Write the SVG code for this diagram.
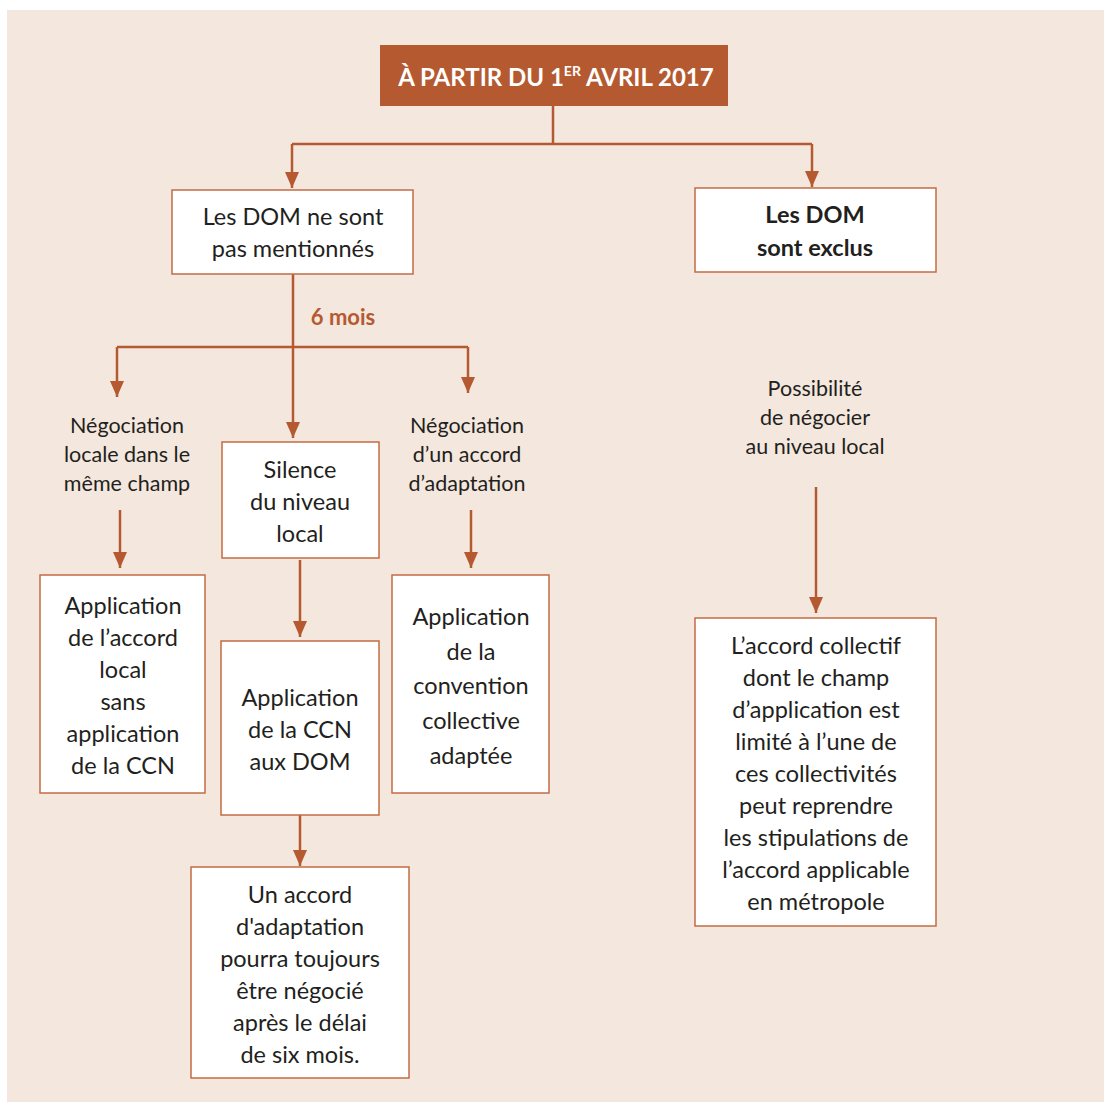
<svg xmlns="http://www.w3.org/2000/svg" width="1104" height="1102" viewBox="0 0 1104 1102">
<defs>
<marker id="ah" markerUnits="userSpaceOnUse" markerWidth="16" markerHeight="14" refX="16" refY="7" orient="auto" viewBox="0 0 16 14">
<path d="M0,0 L16,7 L0,14 Z" fill="#b55a30"/>
</marker>
<style>
.box{fill:#ffffff;stroke:#c46c44;stroke-width:1.5}
.t{font-family:Lato,"Open Sans","Liberation Sans",sans-serif;fill:#231f20;text-anchor:middle}
.m{font-size:23.5px}
.s{font-size:21.5px}
.b{font-weight:bold}
.c{fill:none;stroke:#b55a30;stroke-width:2.5}
.ca{fill:none;stroke:#b55a30;stroke-width:2.5;marker-end:url(#ah)}
</style>
</defs>
<rect x="0" y="0" width="1104" height="1102" fill="#ffffff"/>
<rect x="7" y="10" width="1097" height="1092" fill="#f4e7de"/>

<g id="connectors">
<path class="c" d="M553,106 V144 M292,144 H812"/>
<path class="ca" d="M292,144 V188"/>
<path class="ca" d="M812,144 V187"/>
<path class="c" d="M293,274 V347 M117,347 H468"/>
<path class="ca" d="M117,347 V397"/>
<path class="ca" d="M468,347 V393"/>
<path class="ca" d="M293,347 V438"/>
<path class="ca" d="M120,510 V568"/>
<path class="ca" d="M471,510 V568"/>
<path class="ca" d="M300,560 V637"/>
<path class="ca" d="M300,815 V866"/>
<path class="ca" d="M816,487 V613"/>
</g>

<g id="title">
<rect x="380" y="45" width="348" height="61" fill="#b55a30"/>
<text class="t b" x="556" y="86" style="fill:#ffffff;font-size:24px">À PARTIR DU 1<tspan font-size="14" dy="-10">ER</tspan><tspan dy="10"> AVRIL 2017</tspan></text>
</g>

<g id="non-mentionnes">
<rect class="box" x="172" y="190" width="241" height="84"/>
<text class="t m" x="293" y="225">Les DOM ne sont</text>
<text class="t m" x="293" y="257">pas mentionnés</text>
</g>

<g id="exclus">
<rect class="box" x="695" y="188" width="241" height="84"/>
<text class="t m b" x="815" y="223">Les DOM</text>
<text class="t m b" x="815" y="256">sont exclus</text>
</g>

<g id="six-mois">
<text class="t b" x="343" y="325" style="fill:#b55a30;font-size:22px">6 mois</text>
</g>

<g id="nego-locale">
<text class="t s" x="127" y="433">Négociation</text>
<text class="t s" x="127" y="462">locale dans le</text>
<text class="t s" x="127" y="491">même champ</text>
</g>

<g id="silence">
<rect class="box" x="222" y="442" width="157" height="116"/>
<text class="t m" x="300" y="478">Silence</text>
<text class="t m" x="300" y="510">du niveau</text>
<text class="t m" x="300" y="542">local</text>
</g>

<g id="nego-adaptation">
<text class="t s" x="467" y="433">Négociation</text>
<text class="t s" x="467" y="462">d’un accord</text>
<text class="t s" x="467" y="491">d’adaptation</text>
</g>

<g id="app-accord-local">
<rect class="box" x="40" y="575" width="165" height="218"/>
<text class="t m" x="123" y="614">Application</text>
<text class="t m" x="123" y="646">de l’accord</text>
<text class="t m" x="123" y="678">local</text>
<text class="t m" x="123" y="710">sans</text>
<text class="t m" x="123" y="742">application</text>
<text class="t m" x="123" y="774">de la CCN</text>
</g>

<g id="app-ccn">
<rect class="box" x="221" y="641" width="158" height="174"/>
<text class="t m" x="300" y="706">Application</text>
<text class="t m" x="300" y="738">de la CCN</text>
<text class="t m" x="300" y="770">aux DOM</text>
</g>

<g id="app-convention">
<rect class="box" x="392" y="575" width="157" height="218"/>
<text class="t m" x="471" y="625">Application</text>
<text class="t m" x="471" y="660">de la</text>
<text class="t m" x="471" y="694">convention</text>
<text class="t m" x="471" y="729">collective</text>
<text class="t m" x="471" y="764">adaptée</text>
</g>

<g id="accord-adaptation">
<rect class="box" x="191" y="867" width="218" height="211"/>
<text class="t m" x="300" y="903">Un accord</text>
<text class="t m" x="300" y="935">d'adaptation</text>
<text class="t m" x="300" y="967">pourra toujours</text>
<text class="t m" x="300" y="999">être négocié</text>
<text class="t m" x="300" y="1031">après le délai</text>
<text class="t m" x="300" y="1063">de six mois.</text>
</g>

<g id="possibilite">
<text class="t s" x="815" y="396">Possibilité</text>
<text class="t s" x="815" y="425">de négocier</text>
<text class="t s" x="815" y="454">au niveau local</text>
</g>

<g id="accord-collectif">
<rect class="box" x="695" y="618" width="241" height="308"/>
<text class="t m" x="816" y="654">L’accord collectif</text>
<text class="t m" x="816" y="686">dont le champ</text>
<text class="t m" x="816" y="718">d’application est</text>
<text class="t m" x="816" y="750">limité à l’une de</text>
<text class="t m" x="816" y="782">ces collectivités</text>
<text class="t m" x="816" y="814">peut reprendre</text>
<text class="t m" x="816" y="846">les stipulations de</text>
<text class="t m" x="816" y="878">l’accord applicable</text>
<text class="t m" x="816" y="910">en métropole</text>
</g>
</svg>
